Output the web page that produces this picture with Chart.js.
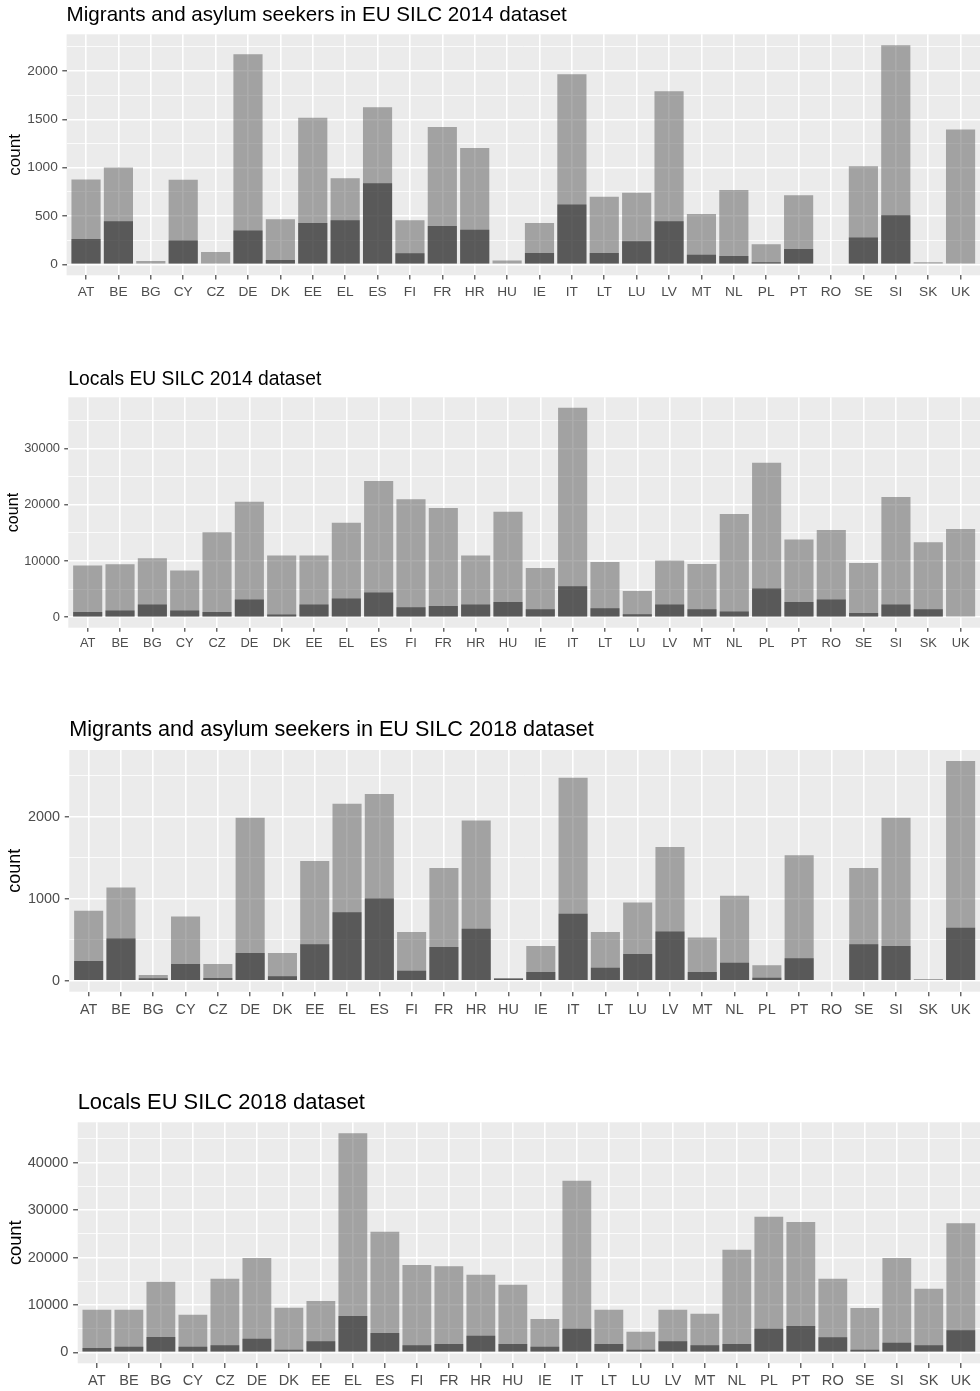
<!DOCTYPE html>
<html lang="en">
<head>
  <meta charset="UTF-8" />
  <title>EU SILC 2014 / 2018 counts by country</title>
  <script src="https://cdn.jsdelivr.net/npm/chart.js"></script>
  <style>
    body {
      margin: 0;
      background: #fff;
      width: 980px;
      height: 1391px;
      position: relative;
      overflow: hidden;
    }
    canvas {
      position: absolute;
      left: 0;
    }
  </style>
</head>
<body>
  <canvas id="c1"></canvas>
  <canvas id="c2"></canvas>
  <canvas id="c3"></canvas>
  <canvas id="c4"></canvas>

  <script>
    // === Data ===
    const countries = ['AT', 'BE', 'BG', 'CY', 'CZ', 'DE', 'DK', 'EE', 'EL', 'ES', 'FI', 'FR', 'HR', 'HU',
                       'IE', 'IT', 'LT', 'LU', 'LV', 'MT', 'NL', 'PL', 'PT', 'RO', 'SE', 'SI', 'SK', 'UK'];

    const migrants2014All = [877, 1001, 34, 875, 127, 2174, 466, 1518, 890, 1625, 455, 1421, 1204, 41,
                             428, 1967, 700, 742, 1790, 521, 769, 207, 714, 0, 1014, 2267, 21, 1394];
    const migrants2014Sub = [262, 445, 0, 248, 0, 349, 45, 428, 455, 838, 114, 397, 359, 0,
                             117, 618, 117, 238, 445, 100, 86, 21, 158, 0, 279, 507, 0, 0];

    const locals2014All = [9190, 9430, 10490, 8300, 15120, 20570, 10970, 10970, 16840, 24250, 20990, 19450, 10970, 18800,
                           8780, 37290, 9840, 4680, 10080, 9490, 18380, 27510, 13820, 15530, 9660, 21400, 13340, 15710];
    const locals2014Sub = [950, 1190, 2250, 1190, 950, 3140, 470, 2250, 3320, 4390, 1780, 2020, 2250, 2730,
                           1420, 5510, 1600, 530, 2250, 1420, 1010, 5100, 2730, 3140, 770, 2250, 1420, 0];

    const migrants2018All = [853, 1139, 69, 784, 204, 1988, 339, 1461, 2159, 2278, 596, 1376, 1955, 33,
                             425, 2478, 596, 955, 1633, 527, 1037, 188, 1531, 0, 1376, 1988, 20, 2682];
    const migrants2018Sub = [241, 514, 29, 204, 33, 339, 53, 445, 837, 1004, 122, 412, 633, 25,
                             106, 816, 159, 327, 600, 106, 220, 37, 273, 0, 445, 425, 0, 645];

    const locals2018All = [9000, 9000, 14900, 7940, 15540, 19900, 9420, 10830, 46190, 25450, 18420, 18140, 16380, 14270,
                           7030, 36200, 9000, 4360, 9000, 8160, 21650, 28610, 27490, 15540, 9350, 19900, 13430, 27210];
    const locals2018Sub = [910, 1200, 3230, 1200, 1480, 2880, 560, 2320, 7660, 4080, 1480, 1760, 3520, 1760,
                           1200, 4990, 1760, 560, 2320, 1480, 1760, 4990, 5550, 3160, 560, 2040, 1480, 4640];

    // === Panel layout (pixels on the page) ===
    const panels = [
      { id: 'c1', title: 'Migrants and asylum seekers in EU SILC 2014 dataset',
        all: migrants2014All, sub: migrants2014Sub, major: 500, minor: 250,
        titleMid: 15.5, plotTop: 34.3, plotBottom: 275.3, plotLeft: 66.6, bottom: 305,
        base: 13.7, titleSize: 20.6, countX: 15 },
      { id: 'c2', title: 'Locals EU SILC 2014 dataset',
        all: locals2014All, sub: locals2014Sub, major: 10000, minor: 5000,
        titleMid: 380, plotTop: 397.3, plotBottom: 627.7, plotLeft: 68.3, bottom: 660,
        base: 12.9, titleSize: 19.3, countX: 14 },
      { id: 'c3', title: 'Migrants and asylum seekers in EU SILC 2018 dataset',
        all: migrants2018All, sub: migrants2018Sub, major: 1000, minor: 500,
        titleMid: 730.3, plotTop: 750, plotBottom: 991.7, plotLeft: 69.3, bottom: 1025,
        base: 14.4, titleSize: 21.6, countX: 15 },
      { id: 'c4', title: 'Locals EU SILC 2018 dataset',
        all: locals2018All, sub: locals2018Sub, major: 10000, minor: 5000,
        titleMid: 1102.5, plotTop: 1122.3, plotBottom: 1363.3, plotLeft: 77.7, bottom: 1391,
        base: 14.6, titleSize: 21.9, countX: 16 }
    ];

    const FONT = '"Liberation Sans", Arial, Helvetica, sans-serif';

    // === Grey panel background like ggplot ===
    const panelBg = {
      id: 'panelBg',
      beforeDraw(chart) {
        const a = chart.chartArea;
        const ctx = chart.ctx;
        ctx.save();
        ctx.fillStyle = '#ebebeb';
        ctx.fillRect(a.left, a.top, a.right - a.left, a.bottom - a.top);
        ctx.restore();
      }
    };

    // countries sit at 0..n-1, with ggplot's 0.6 padding at both ends
    const toPoints = vals => vals.map((v, i) => ({ x: i, y: v }));

    function makeChart(p) {
      const canvas = document.getElementById(p.id);
      const top = Math.round(p.titleMid - 2 - 0.6 * p.titleSize);
      const padTop = p.titleMid - top - 0.6 * p.titleSize;
      const padBottom = p.plotTop - top - padTop - 1.2 * p.titleSize;
      canvas.style.top = top + 'px';
      canvas.width = 980;
      canvas.height = Math.round(p.bottom - top);

      const k = p.base / 13.7;
      const tickLen = 4.3 * k;
      const dataMax = Math.max(...p.all);
      const yTicks = [];
      for (let v = 0; v <= dataMax * 1.05; v += p.minor) yTicks.push(v);
      const isMajor = v => v % p.major === 0;
      const countSize = 1.25 * p.base;

      return new Chart(canvas.getContext('2d'), {
        type: 'bar',
        data: {
          datasets: [
            { data: toPoints(p.all), backgroundColor: 'rgba(89,89,89,0.5)', grouped: false, order: 1,
              borderWidth: 0, categoryPercentage: 1, barPercentage: 0.9 },
            { data: toPoints(p.sub), backgroundColor: 'rgba(30,30,30,0.55)', grouped: false, order: 0,
              borderWidth: 0, categoryPercentage: 1, barPercentage: 0.9 }
          ]
        },
        options: {
          responsive: false,
          animation: false,
          devicePixelRatio: 1,
          layout: { padding: 0 },
          plugins: {
            legend: { display: false },
            tooltip: { enabled: false },
            title: {
              display: true,
              text: p.title,
              align: 'start',
              fullSize: false,
              color: '#000',
              font: { family: FONT, size: p.titleSize, weight: 'normal', lineHeight: 1.2 },
              padding: { top: padTop, bottom: padBottom }
            }
          },
          scales: {
            x: {
              type: 'linear',
              min: -0.6,
              max: countries.length - 0.4,
              offset: false,
              border: { display: false },
              grid: {
                offset: false,
                color: '#fff',
                lineWidth: 1.6,
                tickColor: '#333',
                tickWidth: 1.1,
                tickLength: tickLen
              },
              ticks: {
                autoSkip: false,
                maxRotation: 0,
                padding: 4.5 * k,
                color: '#4d4d4d',
                font: { family: FONT, size: p.base },
                callback: v => countries[v]
              },
              afterBuildTicks(scale) { scale.ticks = countries.map((c, i) => ({ value: i })); },
              afterFit(scale) { scale.height = p.bottom - p.plotBottom; }
            },
            y: {
              min: -0.05 * dataMax,
              max: 1.05 * dataMax,
              border: { display: false },
              grid: {
                color: '#fff',
                lineWidth: c => (c.tick && isMajor(c.tick.value) ? 1.6 : 0.8),
                tickColor: c => (c.tick && isMajor(c.tick.value) ? '#333' : 'rgba(0,0,0,0)'),
                tickWidth: 1.1,
                tickLength: tickLen
              },
              ticks: {
                autoSkip: false,
                padding: 4.5 * k,
                color: '#4d4d4d',
                font: { family: FONT, size: p.base },
                callback: v => (isMajor(v) ? String(v) : '')
              },
              title: {
                display: true,
                text: 'count',
                color: '#000',
                font: { family: FONT, size: countSize, lineHeight: 1.2 },
                padding: { top: p.countX - 0.6 * countSize, bottom: 0 }
              },
              afterBuildTicks(scale) { scale.ticks = yTicks.map(v => ({ value: v })); },
              afterFit(scale) { scale.width = p.plotLeft; }
            }
          }
        },
        plugins: [panelBg]
      });
    }

    panels.forEach(makeChart);
  </script>
</body>
</html>
